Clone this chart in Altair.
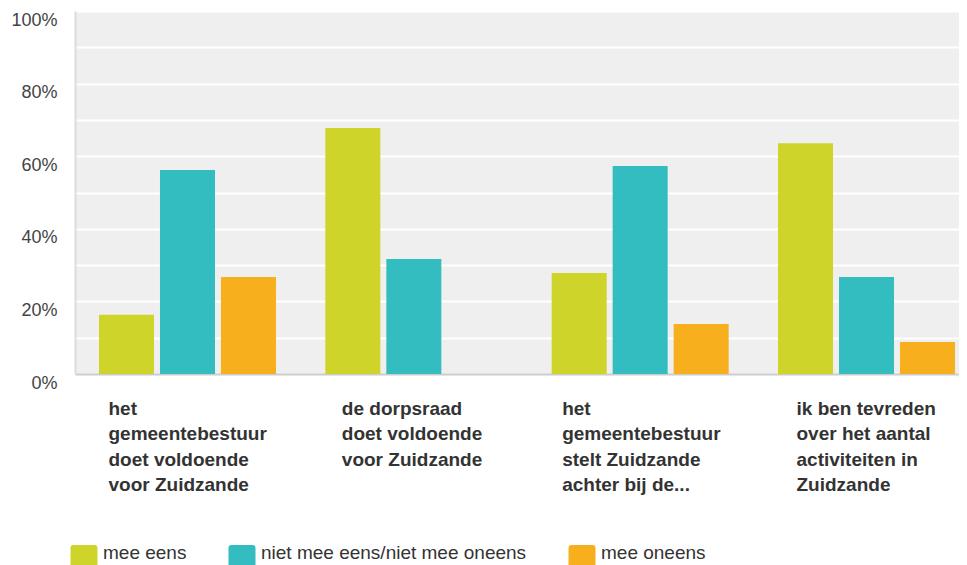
import altair as alt
import pandas as pd

categories = [
    "het|gemeentebestuur|doet voldoende|voor Zuidzande",
    "de dorpsraad|doet voldoende|voor Zuidzande",
    "het|gemeentebestuur|stelt Zuidzande|achter bij de...",
    "ik ben tevreden|over het aantal|activiteiten in|Zuidzande",
]
series = ["mee eens", "niet mee eens/niet mee oneens", "mee oneens"]
mee_eens = [0.163, 0.678, 0.278, 0.636]
neutraal = [0.562, 0.317, 0.573, 0.267]
mee_oneens = [0.267, None, 0.138, 0.088]
colors = ["#cfd42a", "#34bdc0", "#f7af1e"]
label_offsets = [-79, -72, -78, -70]

rows = []
for s, vals in zip(series, [mee_eens, neutraal, mee_oneens]):
    for c, v in zip(categories, vals):
        if v is not None:
            rows.append({"vraag": c, "antwoord": s, "pct": v})
df = pd.DataFrame(rows)

FONT = "Liberation Sans"

legend_path = ("M-1.05,-0.8 H1.05 Q1.35,-0.8 1.35,-0.5 V1.6 Q1.35,1.9 1.05,1.9 "
               "H-1.05 Q-1.35,1.9 -1.35,1.6 V-0.5 Q-1.35,-0.8 -1.05,-0.8 Z")

offset_cond = {
    "condition": [
        {"test": "datum.value === '%s'" % c, "value": o}
        for c, o in zip(categories, label_offsets)
    ],
    "value": -75,
}

chart = alt.Chart(df).mark_bar().encode(
    x=alt.X(
        "vraag:N",
        sort=categories,
        title=None,
        scale=alt.Scale(range=[0, 904], paddingInner=0.218, paddingOuter=0.106),
        axis=alt.Axis(
            labelExpr="split(datum.label, '|')",
            labelAngle=0,
            labelAlign="left",
            labelBaseline="top",
            labelOffset=offset_cond,
            labelPadding=25,
            labelLineHeight=25.5,
            labelFont=FONT,
            labelFontSize=19,
            labelFontWeight="bold",
            labelColor="#333333",
            labelLimit=0,
            ticks=False,
            domainColor="#cccccc",
            domainWidth=2,
            grid=False,
        ),
    ),
    xOffset=alt.XOffset(
        "antwoord:N",
        sort=series,
        scale=alt.Scale(paddingInner=0.098, paddingOuter=0),
    ),
    y=alt.Y(
        "pct:Q",
        title=None,
        scale=alt.Scale(domain=[0, 1], nice=False),
        axis=alt.Axis(
            values=[i / 10 for i in range(11)],
            labelExpr="round(datum.value * 10) % 2 == 0 ? format(datum.value, '.0%') : ''",
            labelBaseline="top",
            labelAlign="right",
            labelPadding=18,
            labelFont=FONT,
            labelFontSize=18,
            labelColor="#444444",
            ticks=False,
            domainColor="#dcdcdc",
            domainWidth=2,
            gridColor="#ffffff",
            gridWidth=2,
        ),
    ),
    color=alt.Color(
        "antwoord:N",
        sort=series,
        scale=alt.Scale(domain=series, range=colors),
        legend=alt.Legend(
            title=None,
            orient="none",
            direction="horizontal",
            legendX=-1,
            legendY=532,
            symbolType=legend_path,
            symbolSize=400,
            symbolStrokeWidth=0,
            symbolOpacity=1,
            labelOffset=9,
            columnPadding=41,
            labelFont=FONT,
            labelFontSize=19,
            labelColor="#333333",
            labelLimit=0,
        ),
    ),
).properties(
    width=884,
    height=363,
    autosize=alt.AutoSizeParams(type="none"),
    padding={"left": 67, "top": 3, "right": 0, "bottom": 191},
).configure_view(
    fill="#efefef",
    stroke=None,
)

chart.save("out.html", embed_options={"renderer": "svg", "actions": False})
